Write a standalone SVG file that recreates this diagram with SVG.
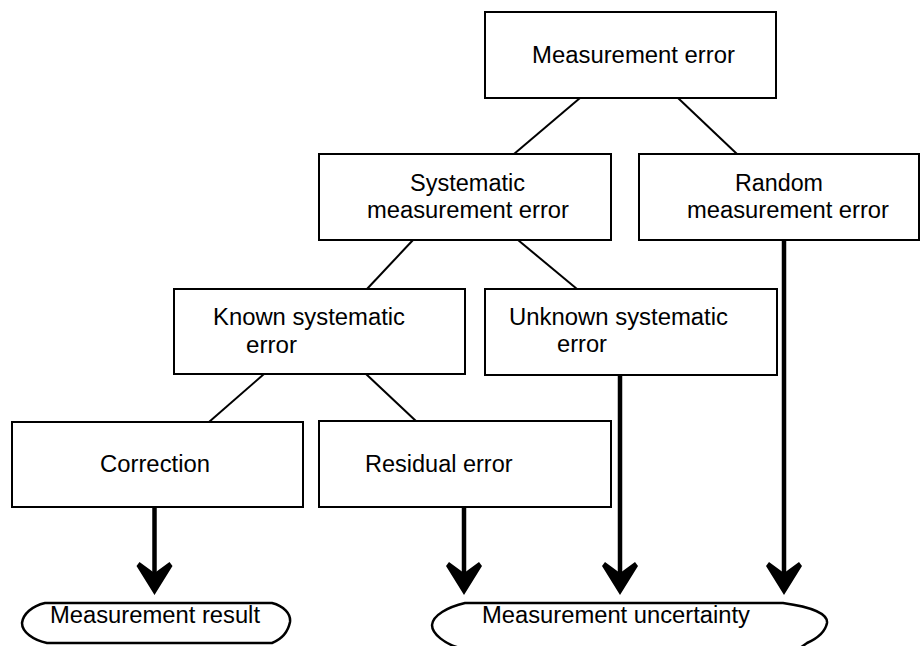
<svg xmlns="http://www.w3.org/2000/svg" width="921" height="646" viewBox="0 0 921 646">
<style>
.box{fill:#fff;stroke:#000;stroke-width:2}
.t{font-family:"Liberation Sans",Arial,sans-serif;font-size:23.5px;fill:#000}
.ln{stroke:#000;stroke-width:2;fill:none}
.ar{stroke:#000;stroke-width:4.5;fill:none}
.hd{fill:#000}
.term{fill:#fff;stroke:#000;stroke-width:2.5}
</style>
<defs>
<path id="head" d="M0,0 L-18,-29 L-15,-33 L0,-22 L15,-33 L18,-29 Z"/>
</defs>
<rect width="921" height="646" fill="#fff"/>
<g id="connectors">
<line class="ln" x1="580" y1="98" x2="514" y2="154"/>
<line class="ln" x1="678" y1="98" x2="737" y2="154"/>
<line class="ln" x1="413" y1="240" x2="367" y2="289"/>
<line class="ln" x1="518" y1="240" x2="577" y2="289"/>
<line class="ln" x1="264" y1="374" x2="209" y2="422"/>
<line class="ln" x1="366" y1="374" x2="417" y2="422"/>
<line class="ar" x1="154.5" y1="507" x2="154.5" y2="580"/>
<use href="#head" class="hd" x="154.5" y="595"/>
<line class="ar" x1="464" y1="507" x2="464" y2="580"/>
<use href="#head" class="hd" x="464" y="595"/>
<line class="ar" x1="620" y1="375" x2="620" y2="580"/>
<use href="#head" class="hd" x="620" y="595"/>
<line class="ar" x1="784" y1="240" x2="784" y2="580"/>
<use href="#head" class="hd" x="784" y="595"/>
</g>
<g id="measurement-error">
<rect class="box" x="485" y="12" width="291" height="86"/>
<text class="t" x="532" y="63" textLength="203" lengthAdjust="spacingAndGlyphs">Measurement error</text>
</g>
<g id="systematic">
<rect class="box" x="319" y="154" width="292" height="86"/>
<text class="t" x="410" y="191" textLength="115" lengthAdjust="spacingAndGlyphs">Systematic</text>
<text class="t" x="367" y="218" textLength="202" lengthAdjust="spacingAndGlyphs">measurement error</text>
</g>
<g id="random">
<rect class="box" x="639" y="154" width="280" height="86"/>
<text class="t" x="735" y="191" textLength="88" lengthAdjust="spacingAndGlyphs">Random</text>
<text class="t" x="687" y="218" textLength="202" lengthAdjust="spacingAndGlyphs">measurement error</text>
</g>
<g id="known">
<rect class="box" x="174" y="289" width="291" height="85"/>
<text class="t" x="213" y="325" textLength="192" lengthAdjust="spacingAndGlyphs">Known systematic</text>
<text class="t" x="246" y="353" textLength="51" lengthAdjust="spacingAndGlyphs">error</text>
</g>
<g id="unknown">
<rect class="box" x="485" y="289" width="292" height="86"/>
<text class="t" x="509" y="324.5" textLength="219" lengthAdjust="spacingAndGlyphs">Unknown systematic</text>
<text class="t" x="557" y="352" textLength="50" lengthAdjust="spacingAndGlyphs">error</text>
</g>
<g id="correction">
<rect class="box" x="12" y="422" width="291" height="85"/>
<text class="t" x="100" y="472" textLength="110" lengthAdjust="spacingAndGlyphs">Correction</text>
</g>
<g id="residual">
<rect class="box" x="319" y="421" width="292" height="86"/>
<text class="t" x="365" y="472">Residual error</text>
</g>
<g id="result">
<path class="term" d="M45,603 L272,603 C284,606 291,614 290,622 C288,632 282,639 272,643 L47,643 C33,640 22,632 22,623 C23,614 32,606 45,603 Z"/>
<text class="t" x="50" y="623" textLength="210" lengthAdjust="spacingAndGlyphs">Measurement result</text>
</g>
<g id="uncertainty">
<path class="term" d="M465,603 L783,603 C812,607 828,614 827,623 C825,633 816,639 807,643 L800,648 L460,648 C445,644 432,634 432,625 C433,615 448,607 465,603 Z"/>
<text class="t" x="482" y="623" textLength="268" lengthAdjust="spacingAndGlyphs">Measurement uncertainty</text>
</g>
</svg>
